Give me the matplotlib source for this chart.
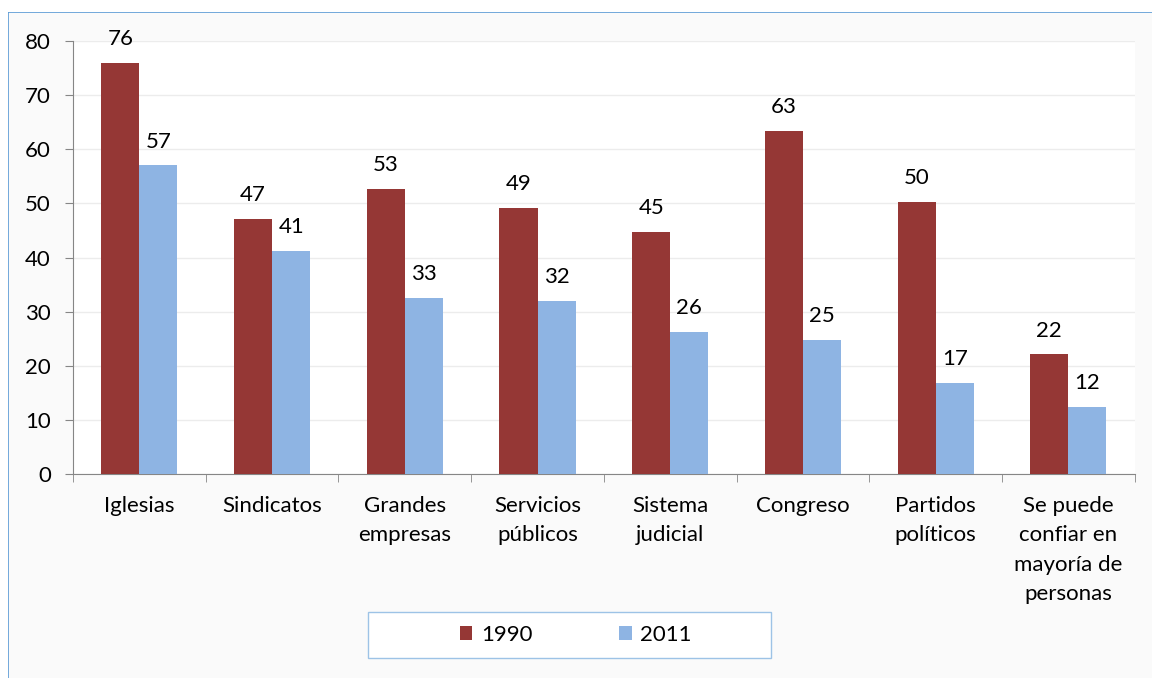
import matplotlib.pyplot as plt
from matplotlib.patches import Rectangle
import numpy as np

plt.rcParams['font.family'] = ['Lato', 'DejaVu Sans']

categories = ["Iglesias", "Sindicatos", "Grandes\nempresas", "Servicios\npúblicos",
              "Sistema\njudicial", "Congreso", "Partidos\npolíticos",
              "Se puede\nconfiar en\nmayoría de\npersonas"]
vals_1990 = [76.0, 47.2, 52.6, 49.2, 44.7, 63.4, 50.2, 22.1]
vals_2011 = [57.0, 41.2, 32.6, 32.0, 26.2, 24.7, 16.9, 12.4]
series_labels = ["1990", "2011"]
colors = ["#953735", "#8eb4e3"]

fs = 16

fig = plt.figure(figsize=(11.52, 6.78), dpi=100)
fig.patch.set_facecolor("#fafafa")
# outer chart-area border
fig.add_artist(Rectangle((8 / 1152, -0.01), 1.1, 1 - 12 / 678 + 0.01,
                         transform=fig.transFigure, fill=False,
                         edgecolor="#5b9bd5", lw=1.2))
fig.add_artist(Rectangle((0, 1 - 12 / 678), 1, 12 / 678, transform=fig.transFigure,
                         facecolor="white", edgecolor="none"))
fig.add_artist(Rectangle((0, 0), 8 / 1152, 1, transform=fig.transFigure,
                         facecolor="white", edgecolor="none"))

ax = fig.add_axes([0.0634, 0.3009, 0.9216, 0.6386])
ax.set_facecolor("white")

x = np.arange(len(categories))
w = 0.287
b1 = ax.bar(x - w / 2, vals_1990, w, color=colors[0], label=series_labels[0], zorder=3)
b2 = ax.bar(x + w / 2, vals_2011, w, color=colors[1], label=series_labels[1], zorder=3)

for bars, vals in ((b1, vals_1990), (b2, vals_2011)):
    for r, v in zip(bars, vals):
        ax.text(r.get_x() + r.get_width() / 2, v + 4.4, f"{round(v)}",
                ha="center", va="center", fontsize=fs)

ax.set_xlim(-0.5, len(categories) - 0.5)
ax.set_ylim(0, 80)
ax.set_yticks(range(0, 81, 10))
ax.tick_params(axis="y", labelsize=fs, length=6, color="#868686", pad=10)
ax.grid(axis="y", color="#ececec", lw=1, zorder=0)

ax.set_xticks(x)
ax.set_xticklabels(categories, fontsize=fs, linespacing=1.58, va="top")
ax.tick_params(axis="x", length=0, pad=16)
ax.set_xticks(np.arange(-0.5, len(categories)), minor=True)
ax.tick_params(axis="x", which="minor", length=6, color="#868686")

for s in ("top", "right"):
    ax.spines[s].set_visible(False)
for s in ("left", "bottom"):
    ax.spines[s].set_color("#868686")

# legend box
fig.add_artist(Rectangle((368 / 1152, 1 - 658 / 678), 403 / 1152, 46 / 678,
                         transform=fig.transFigure, facecolor="white",
                         edgecolor="#9dc3e6", lw=1))
fig.legend(handles=[b1, b2], loc="center", ncol=2,
           bbox_to_anchor=((368 + 208) / 1152, 1 - 635 / 678),
           frameon=False, fontsize=fs, handlelength=0.55, handleheight=0.55,
           handletextpad=0.4, columnspacing=3.9)

fig.savefig("out.png", dpi=100, facecolor=fig.get_facecolor())
